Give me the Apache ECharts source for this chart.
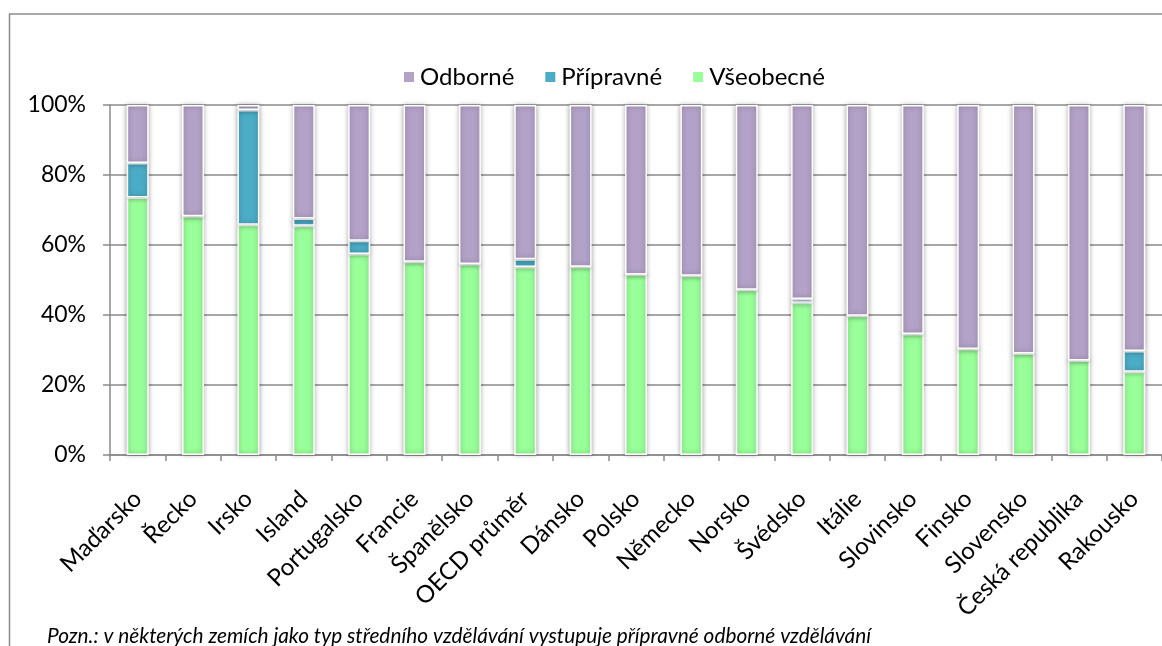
<!DOCTYPE html>
<html>
<head>
<meta charset="utf-8">
<script src="https://cdn.jsdelivr.net/npm/echarts@6/dist/echarts.min.js"></script>
<style>
  html, body { margin: 0; padding: 0; background: #fff; }
  #chart { width: 1162px; height: 646px; }
</style>
</head>
<body>
<div id="chart"></div>
<script>
// Countries, ordered by share of general education
const countries = ['Maďarsko', 'Řecko', 'Irsko', 'Island', 'Portugalsko', 'Francie', 'Španělsko',
  'OECD průměr', 'Dánsko', 'Polsko', 'Německo', 'Norsko', 'Švédsko', 'Itálie', 'Slovinsko',
  'Finsko', 'Slovensko', 'Česká republika', 'Rakousko'];

// Shares of upper secondary students by programme type (%)
const vseobecne = [73.6, 68.2, 65.8, 65.5, 57.4, 55.2, 54.6, 53.7, 53.8, 51.6, 51.2, 47.2, 43.5, 39.8, 34.6, 30.3, 29.0, 27.0, 23.8];
const pripravne = [9.8, 0, 32.8, 2.1, 3.8, 0, 0, 2.2, 0, 0, 0, 0, 1.1, 0, 0, 0, 0, 0, 5.9];
const odborne   = [16.6, 31.8, 1.4, 32.4, 38.8, 44.8, 45.4, 44.1, 46.2, 48.4, 48.8, 52.8, 55.4, 60.2, 65.4, 69.7, 71.0, 73.0, 70.3];

const yTicks = [0, 20, 40, 60, 80, 100];

const FONT = 'Lato';
const note = 'Pozn.: v některých zemích jako typ středního vzdělávání vystupuje přípravné odborné vzdělávání';

const chart = echarts.init(document.getElementById('chart'), null, { renderer: 'canvas' });

const barStyle = (color) => ({
  color: color,
  borderColor: '#ffffff',
  borderWidth: 1.5,
  shadowColor: 'rgba(0,0,0,0.35)',
  shadowBlur: 5
});

chart.setOption({
  animation: false,
  backgroundColor: '#ffffff',
  textStyle: { fontFamily: FONT },
  legend: {
    data: ['Odborné', 'Přípravné', 'Všeobecné'],
    left: 397,
    top: 60,
    itemWidth: 12,
    itemHeight: 12,
    itemGap: 29,
    icon: 'rect',
    textStyle: { fontFamily: FONT, fontSize: 24, color: '#000' }
  },
  grid: { left: 110, top: 105, width: 1055, height: 350 },
  xAxis: {
    type: 'category',
    data: countries,
    axisLine: { lineStyle: { color: '#8a8a8a', width: 1.5 } },
    axisTick: { show: true, length: 6, lineStyle: { color: '#8a8a8a', width: 1.5 } },
    axisLabel: {
      rotate: 45,
      interval: 0,
      margin: 40,
      fontFamily: FONT,
      fontSize: 24,
      color: '#000'
    }
  },
  yAxis: {
    type: 'value',
    min: yTicks[0],
    max: yTicks[yTicks.length - 1],
    interval: 20,
    axisLine: { show: true, lineStyle: { color: '#8a8a8a', width: 1.5 } },
    axisTick: { show: true, length: 7, lineStyle: { color: '#8a8a8a', width: 1.5 } },
    splitLine: { lineStyle: { color: '#8a8a8a', width: 1.5 } },
    axisLabel: {
      formatter: '{value}%',
      margin: 24,
      fontFamily: FONT,
      fontSize: 23,
      color: '#000'
    }
  },
  series: [
    { name: 'Všeobecné', type: 'bar', stack: 'total', barWidth: 22, data: vseobecne, itemStyle: barStyle('#99ff99') },
    { name: 'Přípravné', type: 'bar', stack: 'total', barWidth: 22, data: pripravne, itemStyle: barStyle('#4bacc6') },
    { name: 'Odborné', type: 'bar', stack: 'total', barWidth: 22, data: odborne, itemStyle: barStyle('#b3a2c7') }
  ],
  graphic: [
    {
      type: 'rect',
      silent: true,
      z: -1,
      shape: { x: 9.5, y: 14, width: 1300, height: 800 },
      style: { fill: 'none', stroke: '#8c8c8c', lineWidth: 1.5 }
    },
    {
      type: 'text',
      left: 47,
      top: 626,
      style: {
        text: note,
        fontFamily: FONT,
        fontStyle: 'italic',
        fontSize: 20.8,
        fill: '#000'
      }
    }
  ]
});
</script>
</body>
</html>
